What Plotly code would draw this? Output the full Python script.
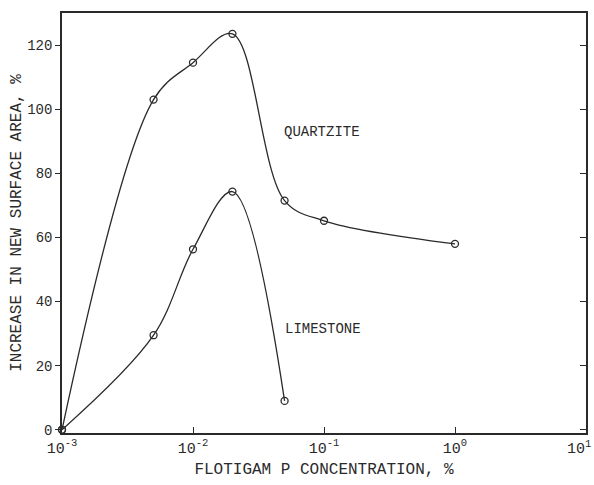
import plotly.graph_objects as go

quartz_x = [1e-3, 5e-3, 1e-2, 2e-2, 5e-2, 1e-1, 1e0]
quartz_y = [0, 103, 114.5, 123.5, 71.5, 65.2, 58]
lime_x = [1e-3, 5e-3, 1e-2, 2e-2, 5e-2]
lime_y = [0, 29.5, 56.3, 74.3, 9]
x_tickvals = [1e-3, 1e-2, 1e-1, 1e0, 1e1]
x_ticktext = ["10<sup>-3</sup>", "10<sup>-2</sup>", "10<sup>-1</sup>", "10<sup>0</sup>", "10<sup>1</sup>"]
y_tickvals = [0, 20, 40, 60, 80, 100, 120]

ink = "#2a2a2a"
mono = "Liberation Mono"
font = dict(family="DejaVu Sans", size=13, color=ink)

fig = go.Figure()
for xs, ys in [(quartz_x, quartz_y), (lime_x, lime_y)]:
    fig.add_trace(go.Scatter(
        x=xs, y=ys, mode="lines+markers",
        line=dict(color=ink, width=1.3, shape="spline", smoothing=1.0),
        marker=dict(symbol="circle-open", size=7, color=ink, line=dict(width=1.3)),
        showlegend=False, cliponaxis=False))

fig.add_annotation(x=-1.32, y=93, xref="x", yref="y", text="QUARTZITE",
                   showarrow=False, xanchor="left", font=dict(family=mono, size=14, color=ink))
fig.add_annotation(x=-1.31, y=31.5, xref="x", yref="y", text="LIMESTONE",
                   showarrow=False, xanchor="left", font=dict(family=mono, size=14, color=ink))
# last tick label kept inside the page
fig.add_annotation(x=1.0, xref="paper", y=0, yref="paper", text=x_ticktext[-1],
                   showarrow=False, xanchor="right", yanchor="top", xshift=7, yshift=-3,
                   font=dict(family=mono, size=15, color=ink))

fig.update_layout(
    width=594, height=485,
    margin=dict(l=62, r=8, t=13, b=52),
    paper_bgcolor="white", plot_bgcolor="white",
    font=font,
    xaxis=dict(type="log", range=[-3, 1], tickvals=x_tickvals, ticktext=x_ticktext[:-1] + [""],
               tickfont=dict(family=mono, size=15), automargin=False,
               showgrid=False, zeroline=False, showline=True, linecolor=ink, linewidth=1.5,
               mirror=True, ticks="inside", ticklen=6, tickcolor=ink,
               title=dict(text="FLOTIGAM P CONCENTRATION, %", font=dict(family=mono, size=16), standoff=6)),
    yaxis=dict(range=[-1, 130], tickvals=y_tickvals, automargin=False,
               tickfont=dict(family=mono, size=14),
               showgrid=False, zeroline=False, showline=True, linecolor=ink, linewidth=1.5,
               mirror=True, ticks="outside", ticklen=5, tickcolor=ink,
               title=dict(text="INCREASE IN NEW SURFACE AREA, %", font=dict(family=mono, size=16), standoff=2)),
    yaxis2=dict(range=[-1, 130], tickvals=y_tickvals, overlaying="y", automargin=False,
                side="right", showticklabels=False, ticks="inside", ticklen=6, tickcolor=ink,
                showgrid=False, zeroline=False, showline=False),
)
fig.add_trace(go.Scatter(x=[None], y=[None], yaxis="y2", showlegend=False))
fig.write_html("out.html")
